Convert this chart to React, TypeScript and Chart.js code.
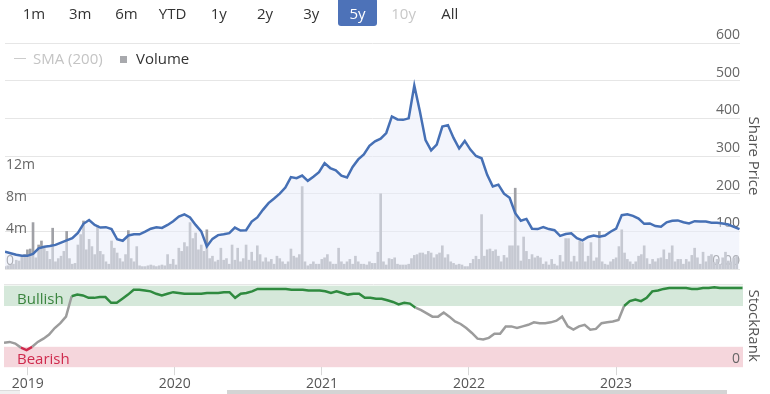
import React, { useEffect, useRef } from "react";
import { Chart, registerables } from "chart.js";

Chart.register(...registerables);

// ---- data ----
const START_DATE = "2018-11-03"; // first weekly observation
const AXIS_END_DATE = "2023-11-12";
const YEAR_TICKS = [2019, 2020, 2021, 2022, 2023];
const PRICE_TICKS = [0, 100, 200, 300, 400, 500, 600];
const VOLUME_TICKS = [0, 4, 8, 12]; // millions
const RANK_TICKS = [0];
const RANGE_BUTTONS = ["1m", "3m", "6m", "YTD", "1y", "2y", "3y", "5y", "10y", "All"];
const ACTIVE_BUTTON = "5y";
const DISABLED_BUTTON = "10y";
const PRICE_STEP_WEEKS = 2;
const RANK_STEP_WEEKS = 2;
const BULLISH_MIN = 75;
const BEARISH_MAX = 25;
const RANK_TOP = 100;

// share price, one value every two weeks
const sharePrice = [
  46, 42, 38, 35, 35, 40, 55, 59, 61, 64,
  70, 76, 82, 96, 120, 130, 117, 110, 111, 106,
  79, 75, 89, 92, 92, 99, 107, 111, 109, 117,
  127, 139, 145, 137, 117, 100, 60, 80, 90, 92,
  95, 110, 102, 103, 126, 137, 157, 175, 187, 200,
  216, 244, 241, 248, 234, 245, 257, 281, 268, 262,
  248, 243, 271, 291, 304, 327, 339, 346, 361, 405,
  397, 396, 400, 487, 418, 342, 315, 330, 378, 382,
  348, 320, 340, 317, 300, 294, 250, 219, 224, 200,
  189, 148, 128, 133, 107, 106, 111, 106, 103, 88,
  93, 95, 82, 76, 85, 89, 86, 89, 99, 107,
  143, 145, 141, 134, 120, 121, 114, 112, 124, 128,
  129, 124, 121, 127, 126, 126, 123, 123, 121, 118,
  112, 106,
];

// weekly traded volume, millions of shares
const volumeM = [
  0.3, 0.4, 0.5, 0.6, 1.1, 1.0, 1.5, 1.8, 2.4, 2.5,
  5.8, 1.4, 3.0, 3.5, 2.6, 2.2, 1.2, 5.1, 0.9, 1.3,
  1.6, 2.2, 4.7, 1.3, 0.6, 0.7, 3.0, 4.3, 6.0, 2.4,
  3.7, 2.8, 1.8, 5.4, 2.2, 1.8, 0.9, 0.6, 3.5, 2.6,
  2.0, 1.3, 0.9, 1.8, 4.8, 1.3, 0.9, 2.8, 0.4, 0.3,
  0.3, 0.4, 0.5, 0.4, 0.3, 0.4, 0.5, 0.4, 1.8, 0.6,
  1.2, 0.5, 2.6, 2.2, 3.3, 2.8, 5.8, 3.8, 4.5, 2.4,
  3.0, 2.2, 4.9, 1.3, 1.6, 0.9, 1.1, 2.6, 1.1, 1.3,
  0.6, 3.0, 1.1, 2.6, 0.9, 1.3, 3.0, 1.1, 2.1, 1.0,
  2.9, 1.8, 0.9, 1.4, 0.9, 1.2, 0.6, 1.6, 1.3, 0.9,
  0.6, 0.9, 2.5, 1.6, 1.4, 1.8, 10.3, 0.9, 0.4, 0.6,
  0.9, 0.6, 0.6, 1.2, 1.4, 1.8, 0.9, 0.6, 0.6, 2.6,
  0.9, 0.6, 0.9, 1.2, 0.6, 1.6, 0.9, 0.6, 0.6, 0.5,
  0.9, 0.7, 0.7, 2.1, 9.4, 0.9, 0.5, 1.3, 1.2, 1.4,
  0.6, 0.5, 0.5, 0.5, 0.6, 1.3, 1.7, 1.8, 2.0, 2.0,
  1.8, 2.2, 2.0, 1.4, 1.8, 2.0, 2.9, 1.4, 1.8, 0.9,
  0.7, 0.5, 0.6, 0.5, 0.3, 0.3, 0.7, 1.2, 1.6, 1.2,
  6.8, 1.6, 2.4, 2.5, 2.2, 2.4, 1.6, 0.9, 1.7, 1.4,
  2.9, 2.9, 10.1, 2.9, 1.0, 4.0, 2.2, 1.2, 1.8, 1.4,
  1.6, 1.4, 0.6, 0.9, 0.5, 1.2, 0.6, 0.4, 1.7, 0.9,
  3.8, 3.8, 0.9, 1.6, 0.9, 3.5, 3.3, 0.9, 1.6, 3.3,
  1.0, 1.4, 4.7, 0.9, 0.6, 0.5, 0.9, 1.2, 1.4, 2.8,
  4.9, 2.0, 1.2, 0.9, 0.6, 0.9, 1.6, 1.8, 2.9, 1.3,
  0.6, 1.2, 0.9, 1.3, 1.4, 2.4, 1.2, 2.0, 2.9, 0.9,
  1.2, 1.2, 0.6, 1.2, 0.9, 1.7, 2.6, 1.4, 0.6, 2.1,
  0.9, 1.6, 1.8, 0.8, 1.2, 0.6, 1.4, 2.1, 1.0, 0.9, 1.4, 1.6,
];

// StockRank, one value every two weeks
const stockRank = [
  30, 31, 29, 24, 21, 25, 31, 35, 40, 48,
  54, 62, 87, 89, 88, 85, 85, 86, 86, 79,
  79, 84, 89, 95, 95, 94, 93, 90, 88, 90,
  92, 91, 90, 90, 90, 90, 91, 91, 91, 92,
  92, 85, 90, 91, 93, 96, 96, 96, 96, 96,
  96, 95, 95, 95, 94, 94, 94, 93, 91, 93,
  91, 89, 90, 90, 85, 85, 84, 84, 82, 80,
  77, 79, 78, 73, 70, 66, 62, 62, 67, 62,
  56, 53, 48, 42, 35, 34, 36, 41, 41, 50,
  50, 48, 50, 52, 55, 54, 54, 55, 57, 62,
  50, 46, 50, 52, 46, 47, 54, 55, 56, 58,
  75, 81, 83, 81, 85, 93, 94, 96, 97, 97,
  97, 97, 96, 96, 97, 97, 98, 97, 97, 97,
  97, 97,
];

// ---- helpers / styles ----
const FONT = "'Open Sans', 'Noto Sans', sans-serif";
const PRICE_COLOR = "#4670b5";
const GREEN = "#2f8a3f";
const GRAY = "#9c9c9c";
const RED = "#cf2a4d";

function toYear(d: string): number {
  const [y, m, day] = d.split("-").map(Number);
  const start = Date.UTC(y, 0, 1);
  const end = Date.UTC(y + 1, 0, 1);
  return y + (Date.UTC(y, m - 1, day) - start) / (end - start);
}

const WEEK_YEARS = 7 / 365.25;

const bandsPlugin = {
  id: "rankBands",
  beforeDraw(chart: any) {
    const { ctx, chartArea } = chart;
    const s = chart.scales.sr;
    const { left, right } = chartArea;
    ctx.save();
    ctx.fillStyle = "#d5e8da";
    const yTop = s.getPixelForValue(RANK_TOP);
    const yBull = s.getPixelForValue(BULLISH_MIN);
    ctx.fillRect(left, yTop, right - left, yBull - yTop);
    ctx.fillStyle = "#f5d6dc";
    const yBear = s.getPixelForValue(BEARISH_MAX);
    const y0 = s.getPixelForValue(0);
    ctx.fillRect(left, yBear, right - left, y0 - yBear);
    ctx.strokeStyle = "#e6e6e6";
    ctx.lineWidth = 1;
    ctx.beginPath();
    ctx.moveTo(left, Math.round(chartArea.top) + 0.5);
    ctx.lineTo(right, Math.round(chartArea.top) + 0.5);
    ctx.stroke();
    ctx.restore();
  },
};

export default function App() {
  const topRef = useRef<HTMLCanvasElement>(null);
  const bottomRef = useRef<HTMLCanvasElement>(null);

  useEffect(() => {
    const xMin = toYear(START_DATE);
    const xMax = toYear(AXIS_END_DATE);
    const priceData = sharePrice.map((v, j) => ({ x: xMin + j * PRICE_STEP_WEEKS * WEEK_YEARS, y: v }));
    const volumeData = volumeM.map((v, i) => ({ x: xMin + i * WEEK_YEARS, y: v }));
    const rankData = stockRank.map((v, j) => ({ x: xMin + j * RANK_STEP_WEEKS * WEEK_YEARS, y: v }));

    const tickFont = { family: FONT, size: 14 };

    const top = new Chart(topRef.current!, {
      type: "line",
      data: {
        datasets: [
          {
            type: "line",
            label: "Share Price",
            data: priceData,
            xAxisID: "x",
            yAxisID: "price",
            borderColor: PRICE_COLOR,
            borderWidth: 2.5,
            backgroundColor: "rgba(232,237,249,0.53)",
            fill: "origin",
            pointRadius: 0,
            tension: 0,
            order: 0,
          } as any,
          {
            type: "bar",
            label: "Volume",
            data: volumeData,
            xAxisID: "x",
            yAxisID: "vol",
            backgroundColor: "rgb(160,161,166)",
            barThickness: 2,
            order: 1,
          } as any,
        ],
      },
      options: {
        animation: false,
        responsive: false,
        layout: { padding: { top: 43, left: 3, right: 0, bottom: 11 } },
        plugins: { legend: { display: false }, tooltip: { enabled: false } },
        scales: {
          x: { type: "linear", min: xMin, max: xMax, display: false, offset: false },
          price: {
            type: "linear",
            position: "right",
            min: 0,
            max: 600,
            afterBuildTicks: (s: any) => {
              s.ticks = PRICE_TICKS.map((v) => ({ value: v }));
            },
            ticks: {
              mirror: true,
              padding: 0,
              labelOffset: -8,
              autoSkip: false,
              color: "#666",
              font: tickFont,
              callback: (v: any) => (v === 0 ? "0.00" : String(v)),
            },
            grid: { color: "#e6e6e6", drawTicks: false, lineWidth: 1 },
            border: { display: false },
            title: {
              display: true,
              text: "Share Price",
              color: "#555",
              font: { family: FONT, size: 15 },
              padding: { top: 8, bottom: 4 },
            },
          },
          vol: {
            type: "linear",
            position: "left",
            min: 0,
            max: 28.25,
            afterBuildTicks: (s: any) => {
              s.ticks = VOLUME_TICKS.map((v) => ({ value: v }));
            },
            ticks: {
              mirror: true,
              padding: 1,
              labelOffset: -8,
              autoSkip: false,
              color: "#666",
              font: tickFont,
              callback: (v: any) => (v === 0 ? "0" : v + "m"),
            },
            grid: { display: false, drawTicks: false },
            border: { display: false },
          },
        },
      } as any,
    });

    const bottom = new Chart(bottomRef.current!, {
      type: "line",
      data: {
        datasets: [
          {
            label: "StockRank",
            data: rankData,
            xAxisID: "x",
            yAxisID: "sr",
            borderWidth: 2.5,
            pointRadius: 0,
            tension: 0,
            borderColor: GRAY,
            segment: {
              borderColor: (c: any) => {
                const m = (c.p0.parsed.y + c.p1.parsed.y) / 2;
                return m >= BULLISH_MIN ? GREEN : m <= BEARISH_MAX ? RED : GRAY;
              },
            },
          } as any,
        ],
      },
      options: {
        animation: false,
        responsive: false,
        layout: { padding: { top: 9, left: 4, right: 0, bottom: 2 } },
        plugins: { legend: { display: false }, tooltip: { enabled: false } },
        scales: {
          x: {
            type: "linear",
            min: xMin,
            max: xMax,
            offset: false,
            afterBuildTicks: (s: any) => {
              s.ticks = YEAR_TICKS.map((v) => ({ value: v }));
            },
            ticks: {
              padding: 0,
              autoSkip: false,
              maxRotation: 0,
              color: "#555",
              font: tickFont,
              callback: (v: any) => String(v),
            },
            grid: { drawOnChartArea: false, drawTicks: true, tickLength: 8, color: "#d8d8d8" },
            border: { display: false },
          },
          sr: {
            type: "linear",
            position: "right",
            min: 0,
            max: 102,
            afterBuildTicks: (s: any) => {
              s.ticks = RANK_TICKS.map((v) => ({ value: v }));
            },
            ticks: {
              mirror: true,
              padding: -3,
              labelOffset: -8,
              autoSkip: false,
              color: "#666",
              font: tickFont,
              callback: (v: any) => String(v),
            },
            grid: { display: false, drawTicks: false },
            border: { display: false },
            title: {
              display: true,
              text: "StockRank",
              color: "#555",
              font: { family: FONT, size: 15 },
              padding: { top: 8, bottom: 7 },
            },
          },
        },
      } as any,
      plugins: [bandsPlugin],
    });

    return () => {
      top.destroy();
      bottom.destroy();
    };
  }, []);

  const text = { fontFamily: FONT, fontSize: 15, lineHeight: "20px", position: "absolute" as const, whiteSpace: "nowrap" as const };

  return (
    <div style={{ position: "absolute", left: 0, top: 0, width: 770, height: 394, overflow: "hidden", background: "#fff" }}>
      <canvas ref={topRef} width={770} height={280} style={{ position: "absolute", left: 0, top: 0, width: 770, height: 280 }} />
      <canvas ref={bottomRef} width={770} height={119} style={{ position: "absolute", left: 0, top: 275, width: 770, height: 119 }} />

      {RANGE_BUTTONS.map((b, i) => {
        const active = b === ACTIVE_BUTTON;
        const disabled = b === DISABLED_BUTTON;
        const cx = 34 + i * 46.2;
        return (
          <div
            key={b}
            style={{
              ...text,
              left: active ? 338 : cx - 23,
              top: active ? -2 : 3,
              width: active ? 39 : 46,
              height: active ? 28 : 20,
              lineHeight: active ? "30px" : "20px",
              textAlign: "center",
              color: active ? "#fff" : disabled ? "#c8c8c8" : "#333",
              background: active ? "#4d72b8" : "transparent",
              borderRadius: active ? 3 : 0,
            }}
          >
            {b}
          </div>
        );
      })}

      <div style={{ position: "absolute", left: 14, top: 58, width: 12, height: 1, background: "#cccccc" }} />
      <div style={{ ...text, left: 33, top: 48, color: "#c4c4c4" }}>SMA (200)</div>
      <div style={{ position: "absolute", left: 120, top: 56, width: 7, height: 7, background: "#a8a9ad" }} />
      <div style={{ ...text, left: 136, top: 48, color: "#333" }}>Volume</div>

      <div style={{ ...text, left: 17, top: 288, color: "#3b853f" }}>Bullish</div>
      <div style={{ ...text, left: 17, top: 348, color: "#cf2a4d" }}>Bearish</div>

      <div style={{ position: "absolute", left: 0, top: 390, width: 20, height: 4, background: "#f0f0f0", borderTop: "1px solid #dcdcdc" }} />
      <div style={{ position: "absolute", left: 227, top: 390, width: 500, height: 4, background: "#d4d4d4" }} />
    </div>
  );
}
